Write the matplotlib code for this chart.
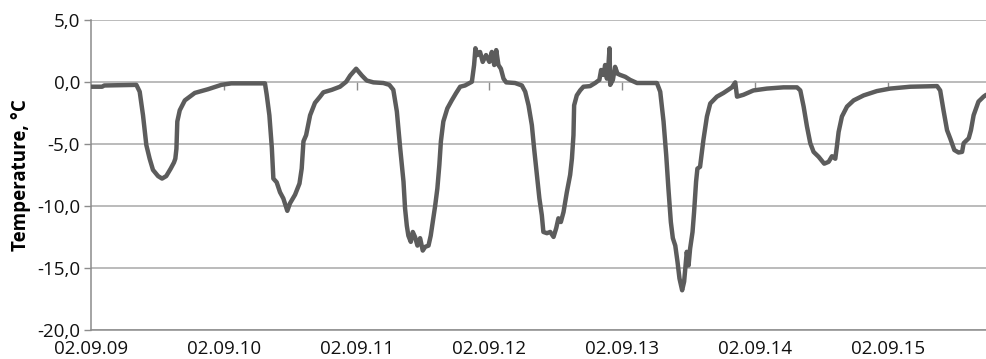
import matplotlib
matplotlib.use("Agg")
import matplotlib.pyplot as plt
from matplotlib.ticker import FuncFormatter

# minutes since 09:00 on 02.09
minutes = [0, 5, 6, 20.5, 22.0, 23.5, 25.0, 26.5, 28.0, 30.3, 32.1, 34.0, 36.0, 37.5, 38.1, 38.6, 39.0,
           40.1, 42.4, 46.9, 52.9, 58.9, 63.4, 78.6,
           79.4, 80.6, 81.7, 82.4, 83.9, 85.4, 86.9, 88.7, 89.9, 92.2, 94.2, 95.2, 96.0, 97.2, 99.0,
           101.2, 103.5, 105.0, 108.8, 112.5, 115.3, 117.1, 119.8, 122.4, 124.6, 127.6, 132.1, 134.8,
           136.6, 138.2, 139.7, 141.2, 141.9, 142.7, 143.4, 144.5, 145.4, 146.4, 147.5, 148.7, 149.9,
           151.0, 152.5, 153.5, 154.4, 155.5, 156.5, 157.4, 158.1, 159.2, 161.0, 163.0, 165.0, 166.8,
           169.0, 172.1, 173.1, 173.7, 174.6, 175.8, 177.0, 178.5, 180.0, 181.1, 182.2, 183.1, 184.1,
           185.2, 186.4, 187.6, 191.6, 194.7,
           196.2, 197.7, 199.2, 200.2, 201.5, 202.6, 203.7, 204.4, 206.0, 207.5, 209.0, 210.2, 211.2,
           212.3, 213.5, 215.0, 216.5, 217.3, 218.0, 218.3, 219.5, 221.0, 222.5, 225.5, 227.8, 229.7,
           230.5, 231.6, 232.3, 233.1, 233.8, 234.3, 234.6, 235.8, 236.8, 237.9, 239.1, 241.4, 243.6,
           246.7, 255.7,
           257.2, 258.7, 259.9, 260.9, 262.0, 262.9, 264.0, 265.0, 265.9, 267.1, 268.0, 268.8, 269.2,
           270.0, 270.7, 271.8, 272.5, 273.4, 274.0, 275.2, 276.7, 278.3, 279.8, 282.8, 285.8, 289.6,
           291.1, 291.9, 294.8, 299.3, 305.4, 312.9, 319.0,
           320.5, 322.0, 323.5, 325.0, 326.5, 328.8, 331.3, 333.3, 334.8, 336.3, 337.0, 337.8, 339.3,
           341.6, 344.6, 349.1, 355.1, 361.1, 370.2, 382.3,
           383.7, 385.2, 386.8, 388.3, 390.1, 392.0, 393.6, 394.3, 396.6, 397.6, 398.8, 401.0, 403.3,
           404.5]

temperature = [-0.4, -0.4, -0.3, -0.25, -0.8, -2.7, -5.1, -6.2, -7.1, -7.6, -7.8, -7.6, -7.0, -6.5, -6.2, -5.4, -3.2,
               -2.3, -1.5, -0.9, -0.6, -0.25, -0.13, -0.13,
               -1.05, -2.7, -5.3, -7.8, -8.1, -8.9, -9.4, -10.4, -9.8, -9.1, -8.2, -7.0, -4.8, -4.3, -2.7,
               -1.7, -1.2, -0.85, -0.65, -0.4, 0.0, 0.5, 1.05, 0.5, 0.1, -0.05, -0.1, -0.25,
               -0.65, -2.4, -5.35, -8.05, -10.2, -11.6, -12.4, -12.9, -12.1, -12.5, -13.2, -12.6, -13.6,
               -13.3, -13.2, -12.4, -11.3, -10.0, -8.6, -6.7, -4.8, -3.2, -2.15, -1.5, -0.9, -0.4,
               -0.3, 0.0, 1.35, 2.7, 2.15, 2.4, 1.6, 2.15, 1.6, 2.4, 1.35, 2.55, 1.35,
               1.05, 0.25, -0.05, -0.1, -0.3,
               -0.8, -1.9, -3.5, -5.35, -7.5, -9.4, -10.75, -12.1, -12.2, -12.1, -12.5, -11.8, -11.0,
               -11.3, -10.5, -8.9, -7.5, -6.2, -4.3, -1.9, -1.1, -0.7, -0.4, -0.35, -0.1, 0.15,
               0.95, 0.55, 1.35, 0.25, 1.35, 2.7, -0.25, 0.15, 1.2, 0.65, 0.55, 0.4, 0.15,
               -0.1, -0.1,
               -0.8, -3.2, -5.9, -8.6, -11.3, -12.6, -13.2, -14.5, -15.85, -16.8, -16.1, -14.5, -13.7,
               -14.8, -13.45, -12.1, -10.5, -8.05, -7.0, -6.85, -4.7, -2.8, -1.75, -1.2, -0.9, -0.45,
               -0.05, -1.2, -1.05, -0.7, -0.55, -0.45, -0.45,
               -0.7, -2.0, -3.6, -4.95, -5.65, -6.05, -6.6, -6.45, -6.0, -6.2, -5.25, -4.05, -2.8,
               -2.0, -1.5, -1.1, -0.75, -0.55, -0.4, -0.35,
               -0.7, -2.3, -3.9, -4.6, -5.5, -5.7, -5.65, -4.95, -4.55, -3.9, -2.7, -1.6, -1.2,
               -1.05]

tick_minutes = [0, 60, 120, 180, 240, 300, 360]
tick_labels = ["02.09.09", "02.09.10", "02.09.11", "02.09.12", "02.09.13", "02.09.14", "02.09.15"]
y_ticks = [-20, -15, -10, -5, 0, 5]

plt.rcParams['font.family'] = ['Open Sans', 'DejaVu Sans']

fig = plt.figure(figsize=(9.86, 3.59), dpi=100)
ax = fig.add_axes([91/986, 1 - 330/359, 1 - 91/986, (330 - 19.7)/359])

ax.plot(minutes, temperature, color='#5c5c5c', lw=3.2, solid_joinstyle='round', solid_capstyle='round',
        clip_on=True, zorder=3)

ax.set_xlim(0, 404.4)
ax.set_ylim(-20, 5)
ax.set_yticks(y_ticks)
ax.yaxis.set_major_formatter(FuncFormatter(lambda v, p: f"{v:.1f}".replace('.', ',')))
ax.set_xticks(tick_minutes)
ax.set_xticklabels(tick_labels)

ax.grid(axis='y', color='#a8a8a8', lw=1.1)
ax.set_axisbelow(True)
for s in ['top', 'right']:
    ax.spines[s].set_visible(False)
for s in ['left', 'bottom']:
    ax.spines[s].set_color('#8c8c8c')
    ax.spines[s].set_linewidth(1.1)

ax.tick_params(axis='y', direction='out', length=5, width=1.0, color='#8c8c8c',
               labelsize=13.5, pad=3, labelcolor='#111111')
ax.tick_params(axis='x', length=0, labelsize=13.5, pad=7, labelcolor='#111111')

# category-style tick marks hanging from the zero line
sec = ax.secondary_xaxis(20/25)
sec.set_xticks(tick_minutes[1:])
sec.tick_params(axis='x', direction='out', length=6, width=1.0, color='#8c8c8c', labelbottom=False,
                labeltop=False, top=False, bottom=True)
sec.xaxis.set_ticks_position('bottom')
sec.tick_params(labelbottom=False)
sec.spines['bottom'].set_visible(False)
sec.spines['top'].set_visible(False)

ax.set_ylabel("Temperature, °C", fontsize=13.5, fontweight='bold', labelpad=4)

fig.savefig("out.png", dpi=100)
